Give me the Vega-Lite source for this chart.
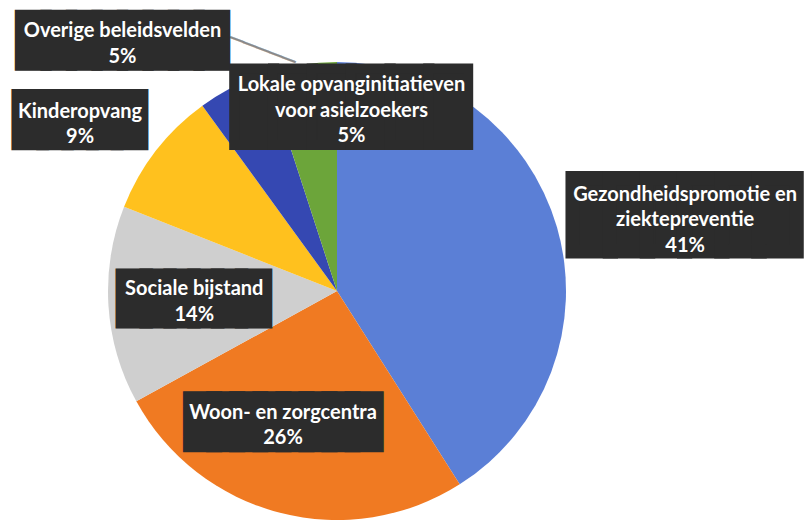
{
  "$schema": "https://vega.github.io/schema/vega-lite/v6.json",
  "width": 674,
  "height": 460,
  "autosize": {"type": "none"},
  "padding": {"left": 0, "top": 61, "right": 132, "bottom": 0},
  "background": "white",
  "view": {"stroke": null},
  "data": {
    "values": [
      {"order": 1, "label": "Gezondheidspromotie en ziektepreventie", "value": 41, "lines": ["Gezondheidspromotie en", "ziektepreventie", "41%"]},
      {"order": 2, "label": "Woon- en zorgcentra", "value": 26, "lines": ["Woon- en zorgcentra", "26%"]},
      {"order": 3, "label": "Sociale bijstand", "value": 14, "lines": ["Sociale bijstand", "14%"]},
      {"order": 4, "label": "Kinderopvang", "value": 9, "lines": ["Kinderopvang", "9%"]},
      {"order": 5, "label": "Overige beleidsvelden", "value": 5, "lines": ["Overige beleidsvelden", "5%"]},
      {"order": 6, "label": "Lokale opvanginitiatieven voor asielzoekers", "value": 5, "lines": ["Lokale opvanginitiatieven", "voor asielzoekers", "5%"]}
    ]
  },
  "encoding": {
    "theta": {"field": "value", "type": "quantitative", "stack": true},
    "order": {"field": "order", "type": "quantitative"}
  },
  "layer": [
    {
      "mark": {"type": "arc", "outerRadius": 229},
      "encoding": {
        "color": {
          "field": "label", "type": "nominal", "legend": null,
          "scale": {
            "domain": ["Gezondheidspromotie en ziektepreventie", "Woon- en zorgcentra", "Sociale bijstand", "Kinderopvang", "Overige beleidsvelden", "Lokale opvanginitiatieven voor asielzoekers"],
            "range": ["#5b7fd6", "#f07a22", "#cfcfcf", "#ffc11e", "#3548b2", "#6ca53a"]
          }
        }
      }
    },
    {
      "mark": {"type": "text", "font": "DejaVu Sans Mono", "fontSize": 23, "radius": 300, "dx": 67.2, "dy": 2.9, "angle": 21, "fill": "#8a8a8a", "stroke": "#8a8a8a", "strokeWidth": 0.4},
      "encoding": {"detail": {"field": "label"}, "text": {"condition": {"test": "datum.order === 5", "value": "─────"}, "value": ""}}
    },
    {
      "mark": {"type": "text", "font": "DejaVu Sans Mono", "fontSize": 61.7, "radius": 350, "dx": 11.4, "dy": 23.5, "fill": "#2c2c2c", "stroke": "#2c2c2c", "strokeWidth": 14.2, "strokeJoin": "miter"},
      "encoding": {"detail": {"field": "label"}, "text": {"condition": {"test": "datum.order === 1", "value": "██████"}, "value": ""}}
    },
    {
      "mark": {"type": "text", "font": "DejaVu Sans Mono", "fontSize": 38.3, "radius": 140, "dx": -19.2, "dy": -2.8, "fill": "#2c2c2c", "stroke": "#2c2c2c", "strokeWidth": 15.4, "strokeJoin": "miter"},
      "encoding": {"detail": {"field": "label"}, "text": {"condition": {"test": "datum.order === 2", "value": "████████"}, "value": ""}}
    },
    {
      "mark": {"type": "text", "font": "DejaVu Sans Mono", "fontSize": 39.6, "radius": 143, "dx": -0.3, "dy": 0.3, "fill": "#2c2c2c", "stroke": "#2c2c2c", "strokeWidth": 12.9, "strokeJoin": "miter"},
      "encoding": {"detail": {"field": "label"}, "text": {"condition": {"test": "datum.order === 3", "value": "██████"}, "value": ""}}
    },
    {
      "mark": {"type": "text", "font": "DejaVu Sans Mono", "fontSize": 41.2, "radius": 300, "dx": -19.9, "dy": 14.7, "fill": "#2c2c2c", "stroke": "#2c2c2c", "strokeWidth": 12.1, "strokeJoin": "miter"},
      "encoding": {"detail": {"field": "label"}, "text": {"condition": {"test": "datum.order === 4", "value": "█████"}, "value": ""}}
    },
    {
      "mark": {"type": "text", "font": "DejaVu Sans Mono", "fontSize": 42.4, "radius": 300, "dx": -78.3, "dy": 18.3, "fill": "#2c2c2c", "stroke": "#2c2c2c", "strokeWidth": 10.6, "strokeJoin": "miter"},
      "encoding": {"detail": {"field": "label"}, "text": {"condition": {"test": "datum.order === 5", "value": "████████"}, "value": ""}}
    },
    {
      "mark": {"type": "text", "font": "DejaVu Sans Mono", "fontSize": 64.5, "radius": 185, "dx": 43.4, "dy": 2.2, "fill": "#2c2c2c", "stroke": "#2c2c2c", "strokeWidth": 9.9, "strokeJoin": "miter"},
      "encoding": {"detail": {"field": "label"}, "text": {"condition": {"test": "datum.order === 6", "value": "██████"}, "value": ""}}
    },
    {
      "mark": {"type": "text", "font": "Lato", "fontWeight": "bold", "fontSize": 20, "lineHeight": 25.5, "radius": 350, "dx": 12, "dy": 1.2, "fill": "white"},
      "encoding": {"detail": {"field": "label"}, "text": {"condition": {"test": "datum.order === 1", "field": "lines", "type": "nominal"}, "value": ""}}
    },
    {
      "mark": {"type": "text", "font": "Lato", "fontWeight": "bold", "fontSize": 20, "lineHeight": 25.5, "radius": 140, "dx": -19.2, "dy": -13.8, "fill": "white"},
      "encoding": {"detail": {"field": "label"}, "text": {"condition": {"test": "datum.order === 2", "field": "lines", "type": "nominal"}, "value": ""}}
    },
    {
      "mark": {"type": "text", "font": "Lato", "fontWeight": "bold", "fontSize": 20, "lineHeight": 25.5, "radius": 143, "dx": 0, "dy": -10.7, "fill": "white"},
      "encoding": {"detail": {"field": "label"}, "text": {"condition": {"test": "datum.order === 3", "field": "lines", "type": "nominal"}, "value": ""}}
    },
    {
      "mark": {"type": "text", "font": "Lato", "fontWeight": "bold", "fontSize": 20, "lineHeight": 25.5, "radius": 300, "dx": -19.9, "dy": 4.5, "fill": "white"},
      "encoding": {"detail": {"field": "label"}, "text": {"condition": {"test": "datum.order === 4", "field": "lines", "type": "nominal"}, "value": ""}}
    },
    {
      "mark": {"type": "text", "font": "Lato", "fontWeight": "bold", "fontSize": 20, "lineHeight": 25.5, "radius": 300, "dx": -78.3, "dy": 7.5, "fill": "white"},
      "encoding": {"detail": {"field": "label"}, "text": {"condition": {"test": "datum.order === 5", "field": "lines", "type": "nominal"}, "value": ""}}
    },
    {
      "mark": {"type": "text", "font": "Lato", "fontWeight": "bold", "fontSize": 20, "lineHeight": 25.5, "radius": 185, "dx": 43.4, "dy": -22.8, "fill": "white"},
      "encoding": {"detail": {"field": "label"}, "text": {"condition": {"test": "datum.order === 6", "field": "lines", "type": "nominal"}, "value": ""}}
    }
  ]
}
